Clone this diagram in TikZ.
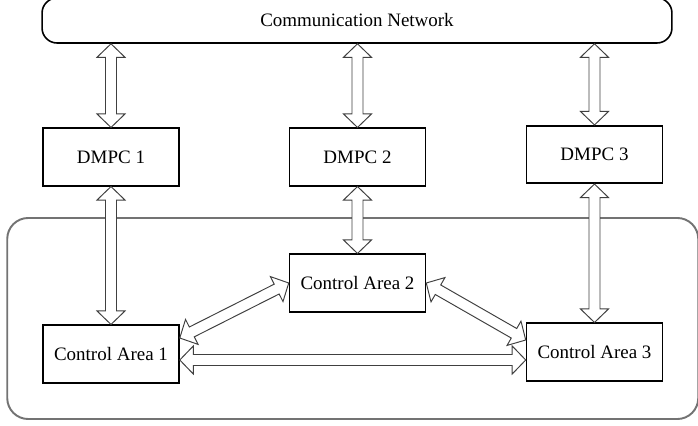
\documentclass[tikz,border=0pt]{standalone}
\usepackage{fontspec}
\setmainfont{Liberation Serif}
\usetikzlibrary{calc,fit,backgrounds}
\tikzset{
  unit/.style={draw=black,line width=.9pt,fill=white,
    minimum width=2.72cm,minimum height=1.15cm,inner sep=2pt,
    font=\fontsize{10.8}{13}\selectfont},
  network/.style={draw=black,line width=.9pt,rounded corners=.3cm,
    minimum width=12.6cm,minimum height=.9cm,inner sep=0pt,
    font=\fontsize{10.8}{13}\selectfont},
  region/.style={draw=black!55,line width=1.1pt,rounded corners=.42cm},
  hollow/.style={draw=black!75,line width=.55pt,fill=white,line join=miter},
}
\begin{document}
\begin{tikzpicture}[x=.02cm,y=-.02cm]
  \useasboundingbox (0,0) rectangle (698,426);
  \node[network] (net) at (357,20.5) {Communication Network};
  \node[unit] (dmpc1) at (111,157) {DMPC 1};
  \node[unit] (dmpc2) at (357.5,157) {DMPC 2};
  \node[unit] (dmpc3) at (594.5,154.5) {DMPC 3};
  \node[unit] (ca1) at (111,354) {Control Area 1};
  \node[unit] (ca2) at (357.5,283) {Control Area 2};
  \node[unit] (ca3) at (594.5,352) {Control Area 3};
  \begin{scope}[on background layer]
    \node[region,fit=(ca1)(ca2)(ca3),inner xsep=.7cm,inner ysep=.71cm] (area) {};
  \end{scope}
  % arrow ends
  \coordinate (t1) at (dmpc1.north |- net.south);
  \coordinate (t2) at (dmpc2.north |- net.south);
  \coordinate (t3) at (dmpc3.north |- net.south);
  \coordinate (d1) at ([yshift=.32cm]ca1.east);
  \coordinate (d2) at ([yshift=.24cm]ca3.west);
  \coordinate (h1) at ([yshift=-.12cm]ca1.east);
  \coordinate (h2) at (h1 -| ca3.west);
  \foreach \a/\b in {t1/dmpc1.north,t2/dmpc2.north,t3/dmpc3.north,
      dmpc1.south/ca1.north,dmpc2.south/ca2.north,dmpc3.south/ca3.north,
      d1/ca2.west,ca2.east/d2,h1/h2} {
    \draw[hollow] (\a)
      -- ($(\a)!.27cm!(\b)!.28cm!90:(\b)$)
      -- ($(\a)!.27cm!(\b)!.11cm!90:(\b)$)
      -- ($(\b)!.27cm!(\a)!.11cm!-90:(\a)$)
      -- ($(\b)!.27cm!(\a)!.28cm!-90:(\a)$)
      -- (\b)
      -- ($(\b)!.27cm!(\a)!.28cm!90:(\a)$)
      -- ($(\b)!.27cm!(\a)!.11cm!90:(\a)$)
      -- ($(\a)!.27cm!(\b)!.11cm!-90:(\b)$)
      -- ($(\a)!.27cm!(\b)!.28cm!-90:(\b)$)
      -- cycle;
  }
\end{tikzpicture}
\end{document}
